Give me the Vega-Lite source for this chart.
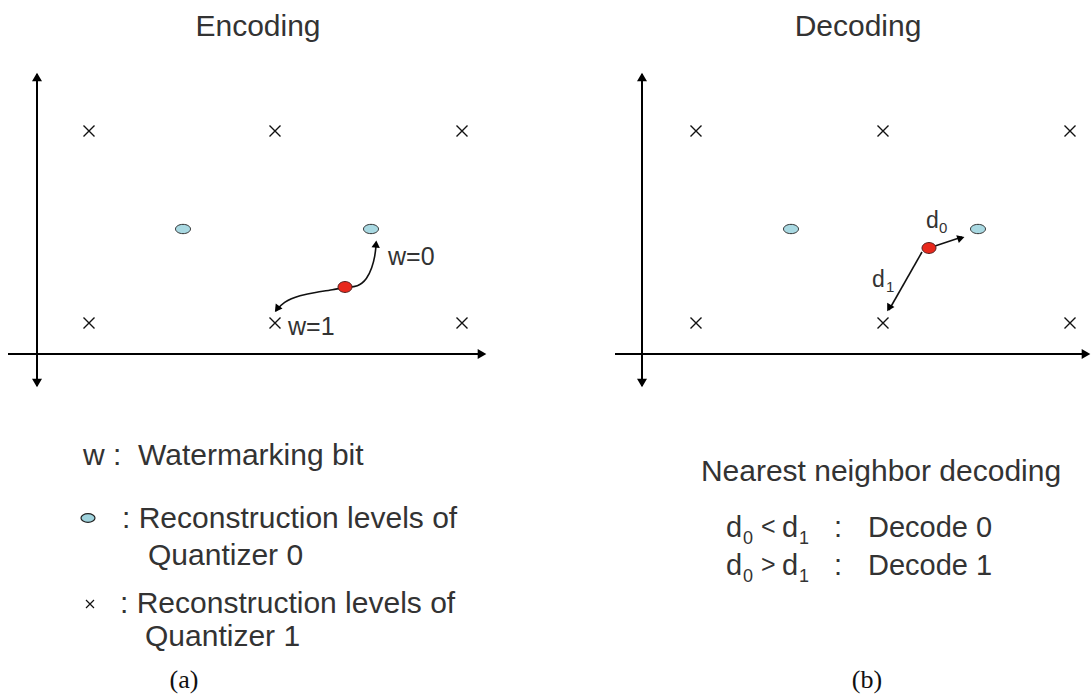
{
  "$schema": "https://vega.github.io/schema/vega-lite/v6.json",
  "width": 1091,
  "height": 695,
  "padding": 0,
  "autosize": {"type": "none"},
  "background": "white",
  "config": {"view": {"stroke": null}},
  "datasets": {
    "axes": [
      {"x": 37, "y": 74, "x2": 37, "y2": 386},
      {"x": 8, "y": 354, "x2": 484, "y2": 354},
      {"x": 642, "y": 74, "x2": 642, "y2": 386},
      {"x": 615, "y": 354, "x2": 1088, "y2": 354}
    ],
    "arrows": [
      {"x": 935, "y": 246, "x2": 962, "y2": 237},
      {"x": 922, "y": 252, "x2": 889, "y2": 310}
    ],
    "axisHeads": [
      {"x": 37, "y": 77, "h": 0},
      {"x": 37, "y": 383, "h": 180},
      {"x": 482, "y": 354, "h": 90},
      {"x": 642, "y": 77, "h": 0},
      {"x": 642, "y": 383, "h": 180},
      {"x": 1086, "y": 354, "h": 90}
    ],
    "curveHeads": [
      {"x": 376, "y": 244, "h": 5},
      {"x": 277, "y": 309, "h": 216},
      {"x": 961, "y": 238, "h": 72},
      {"x": 889, "y": 308, "h": 210}
    ],
    "curve": [
      {"i": 0, "x": 276, "y": 311},
      {"i": 1, "x": 283, "y": 302},
      {"i": 2, "x": 300, "y": 295},
      {"i": 3, "x": 317, "y": 292},
      {"i": 4, "x": 333, "y": 290},
      {"i": 5, "x": 345, "y": 287},
      {"i": 6, "x": 358, "y": 287},
      {"i": 7, "x": 367, "y": 279},
      {"i": 8, "x": 372, "y": 268},
      {"i": 9, "x": 375, "y": 256},
      {"i": 10, "x": 376, "y": 246}
    ],
    "q1": [
      {"x": 89, "y": 131}, {"x": 275, "y": 131}, {"x": 462, "y": 131},
      {"x": 89, "y": 323}, {"x": 275, "y": 323}, {"x": 462, "y": 323},
      {"x": 696, "y": 131}, {"x": 883, "y": 131}, {"x": 1070, "y": 131},
      {"x": 696, "y": 323}, {"x": 883, "y": 323}, {"x": 1070, "y": 323}
    ],
    "q0": [
      {"x": 183, "y": 229}, {"x": 371, "y": 229},
      {"x": 791, "y": 229}, {"x": 978, "y": 229}
    ],
    "red": [
      {"x": 345, "y": 287}, {"x": 929, "y": 248}
    ],
    "titles": [
      {"t": "Encoding", "x": 258, "y": 36},
      {"t": "Decoding", "x": 858, "y": 36}
    ],
    "legendL": [
      {"t": "w :", "x": 83, "y": 465},
      {"t": "Watermarking bit", "x": 138, "y": 465},
      {"t": ": Reconstruction levels of", "x": 122, "y": 528},
      {"t": "Quantizer 0", "x": 148, "y": 565},
      {"t": ": Reconstruction levels of", "x": 120, "y": 613},
      {"t": "Quantizer 1", "x": 145, "y": 646}
    ],
    "legendRTitle": [
      {"t": "Nearest neighbor decoding", "x": 881, "y": 481}
    ],
    "legendR": [
      {"t": "d", "x": 726, "y": 537},
      {"t": "d", "x": 782, "y": 537},
      {"t": ":", "x": 834, "y": 537},
      {"t": "Decode 0", "x": 868, "y": 537},
      {"t": "d", "x": 726, "y": 575},
      {"t": "d", "x": 782, "y": 575},
      {"t": ":", "x": 834, "y": 575},
      {"t": "Decode 1", "x": 868, "y": 575}
    ],
    "legendROp": [
      {"t": "<", "x": 761, "y": 535},
      {"t": ">", "x": 761, "y": 573}
    ],
    "legendRSub": [
      {"t": "0", "x": 743, "y": 544},
      {"t": "1", "x": 799, "y": 544},
      {"t": "0", "x": 743, "y": 582},
      {"t": "1", "x": 799, "y": 582}
    ],
    "wlabels": [
      {"t": "w=0", "x": 388, "y": 265},
      {"t": "w=1", "x": 288, "y": 335}
    ],
    "dlabels": [
      {"t": "d", "x": 926, "y": 228},
      {"t": "d", "x": 872, "y": 287}
    ],
    "dsubs": [
      {"t": "0", "x": 939, "y": 233},
      {"t": "1", "x": 886, "y": 292}
    ],
    "captions": [
      {"t": "(a)", "x": 184, "y": 688},
      {"t": "(b)", "x": 867, "y": 688}
    ],
    "legSymQ0": [{"x": 88, "y": 518}],
    "legSymQ1": [{"x": 90, "y": 604}]
  },
  "layer": [
    {
      "data": {"name": "axes"},
      "mark": {"type": "rule", "color": "#000000", "strokeWidth": 2},
      "encoding": {
        "x": {"field": "x", "type": "quantitative", "scale": {"domain": [0, 1091], "nice": false, "zero": false}, "axis": null},
        "y": {"field": "y", "type": "quantitative", "scale": {"domain": [0, 695], "reverse": true, "nice": false, "zero": false}, "axis": null},
        "x2": {"field": "x2"},
        "y2": {"field": "y2"}
      }
    },
    {
      "data": {"name": "arrows"},
      "mark": {"type": "rule", "color": "#111111", "strokeWidth": 1.6},
      "encoding": {
        "x": {"field": "x", "type": "quantitative", "axis": null},
        "y": {"field": "y", "type": "quantitative", "axis": null},
        "x2": {"field": "x2"},
        "y2": {"field": "y2"}
      }
    },
    {
      "data": {"name": "curve"},
      "mark": {"type": "line", "color": "#111111", "strokeWidth": 1.6, "interpolate": "basis"},
      "encoding": {
        "x": {"field": "x", "type": "quantitative", "axis": null},
        "y": {"field": "y", "type": "quantitative", "axis": null},
        "order": {"field": "i", "type": "quantitative"}
      }
    },
    {
      "data": {"name": "axisHeads"},
      "mark": {"type": "point", "shape": "triangle-up", "filled": true, "color": "#000000", "size": 100, "opacity": 1},
      "encoding": {
        "x": {"field": "x", "type": "quantitative", "axis": null},
        "y": {"field": "y", "type": "quantitative", "axis": null},
        "angle": {"field": "h", "type": "quantitative", "scale": null}
      }
    },
    {
      "data": {"name": "curveHeads"},
      "mark": {"type": "point", "shape": "triangle-up", "filled": true, "color": "#000000", "size": 70, "opacity": 1},
      "encoding": {
        "x": {"field": "x", "type": "quantitative", "axis": null},
        "y": {"field": "y", "type": "quantitative", "axis": null},
        "angle": {"field": "h", "type": "quantitative", "scale": null}
      }
    },
    {
      "data": {"name": "q1"},
      "mark": {"type": "point", "shape": "M-1,-1L1,1M-1,1L1,-1", "filled": false, "stroke": "#111111", "strokeWidth": 1.4, "size": 121, "opacity": 1},
      "encoding": {
        "x": {"field": "x", "type": "quantitative", "axis": null},
        "y": {"field": "y", "type": "quantitative", "axis": null}
      }
    },
    {
      "data": {"name": "q0"},
      "mark": {"type": "point", "shape": "M-1,0A1,0.62,0,1,1,1,0A1,0.62,0,1,1,-1,0Z", "filled": true, "fill": "#a9d9e2", "stroke": "#333333", "strokeWidth": 1, "size": 225, "opacity": 1},
      "encoding": {
        "x": {"field": "x", "type": "quantitative", "axis": null},
        "y": {"field": "y", "type": "quantitative", "axis": null}
      }
    },
    {
      "data": {"name": "red"},
      "mark": {"type": "point", "shape": "M-1,0A1,0.78,0,1,1,1,0A1,0.78,0,1,1,-1,0Z", "filled": true, "fill": "#e8281c", "stroke": "#552222", "strokeWidth": 1, "size": 196, "opacity": 1},
      "encoding": {
        "x": {"field": "x", "type": "quantitative", "axis": null},
        "y": {"field": "y", "type": "quantitative", "axis": null}
      }
    },
    {
      "data": {"name": "legSymQ0"},
      "mark": {"type": "point", "shape": "M-1,0A1,0.62,0,1,1,1,0A1,0.62,0,1,1,-1,0Z", "filled": true, "fill": "#9fd3dd", "stroke": "#222222", "strokeWidth": 1.2, "size": 196, "opacity": 1},
      "encoding": {
        "x": {"field": "x", "type": "quantitative", "axis": null},
        "y": {"field": "y", "type": "quantitative", "axis": null}
      }
    },
    {
      "data": {"name": "legSymQ1"},
      "mark": {"type": "point", "shape": "M-1,-1L1,1M-1,1L1,-1", "filled": false, "stroke": "#111111", "strokeWidth": 1.2, "size": 64, "opacity": 1},
      "encoding": {
        "x": {"field": "x", "type": "quantitative", "axis": null},
        "y": {"field": "y", "type": "quantitative", "axis": null}
      }
    },
    {
      "data": {"name": "titles"},
      "mark": {"type": "text", "font": "Liberation Sans", "fontSize": 30, "color": "#333333", "align": "center", "baseline": "alphabetic"},
      "encoding": {
        "x": {"field": "x", "type": "quantitative", "axis": null},
        "y": {"field": "y", "type": "quantitative", "axis": null},
        "text": {"field": "t"}
      }
    },
    {
      "data": {"name": "legendL"},
      "mark": {"type": "text", "font": "Liberation Sans", "fontSize": 30, "color": "#333333", "align": "left", "baseline": "alphabetic"},
      "encoding": {
        "x": {"field": "x", "type": "quantitative", "axis": null},
        "y": {"field": "y", "type": "quantitative", "axis": null},
        "text": {"field": "t"}
      }
    },
    {
      "data": {"name": "legendRTitle"},
      "mark": {"type": "text", "font": "Liberation Sans", "fontSize": 30, "color": "#333333", "align": "center", "baseline": "alphabetic"},
      "encoding": {
        "x": {"field": "x", "type": "quantitative", "axis": null},
        "y": {"field": "y", "type": "quantitative", "axis": null},
        "text": {"field": "t"}
      }
    },
    {
      "data": {"name": "legendR"},
      "mark": {"type": "text", "font": "Liberation Sans", "fontSize": 29, "color": "#333333", "align": "left", "baseline": "alphabetic"},
      "encoding": {
        "x": {"field": "x", "type": "quantitative", "axis": null},
        "y": {"field": "y", "type": "quantitative", "axis": null},
        "text": {"field": "t"}
      }
    },
    {
      "data": {"name": "legendROp"},
      "mark": {"type": "text", "font": "Liberation Sans", "fontSize": 25, "color": "#333333", "align": "left", "baseline": "alphabetic"},
      "encoding": {
        "x": {"field": "x", "type": "quantitative", "axis": null},
        "y": {"field": "y", "type": "quantitative", "axis": null},
        "text": {"field": "t"}
      }
    },
    {
      "data": {"name": "legendRSub"},
      "mark": {"type": "text", "font": "Liberation Sans", "fontSize": 18, "color": "#333333", "align": "left", "baseline": "alphabetic"},
      "encoding": {
        "x": {"field": "x", "type": "quantitative", "axis": null},
        "y": {"field": "y", "type": "quantitative", "axis": null},
        "text": {"field": "t"}
      }
    },
    {
      "data": {"name": "wlabels"},
      "mark": {"type": "text", "font": "Liberation Sans", "fontSize": 25, "color": "#333333", "align": "left", "baseline": "alphabetic"},
      "encoding": {
        "x": {"field": "x", "type": "quantitative", "axis": null},
        "y": {"field": "y", "type": "quantitative", "axis": null},
        "text": {"field": "t"}
      }
    },
    {
      "data": {"name": "dlabels"},
      "mark": {"type": "text", "font": "Liberation Sans", "fontSize": 23, "color": "#333333", "align": "left", "baseline": "alphabetic"},
      "encoding": {
        "x": {"field": "x", "type": "quantitative", "axis": null},
        "y": {"field": "y", "type": "quantitative", "axis": null},
        "text": {"field": "t"}
      }
    },
    {
      "data": {"name": "dsubs"},
      "mark": {"type": "text", "font": "Liberation Sans", "fontSize": 15, "color": "#333333", "align": "left", "baseline": "alphabetic"},
      "encoding": {
        "x": {"field": "x", "type": "quantitative", "axis": null},
        "y": {"field": "y", "type": "quantitative", "axis": null},
        "text": {"field": "t"}
      }
    },
    {
      "data": {"name": "captions"},
      "mark": {"type": "text", "font": "Liberation Serif", "fontSize": 26, "color": "#111111", "align": "center", "baseline": "alphabetic"},
      "encoding": {
        "x": {"field": "x", "type": "quantitative", "axis": null},
        "y": {"field": "y", "type": "quantitative", "axis": null},
        "text": {"field": "t"}
      }
    }
  ]
}
